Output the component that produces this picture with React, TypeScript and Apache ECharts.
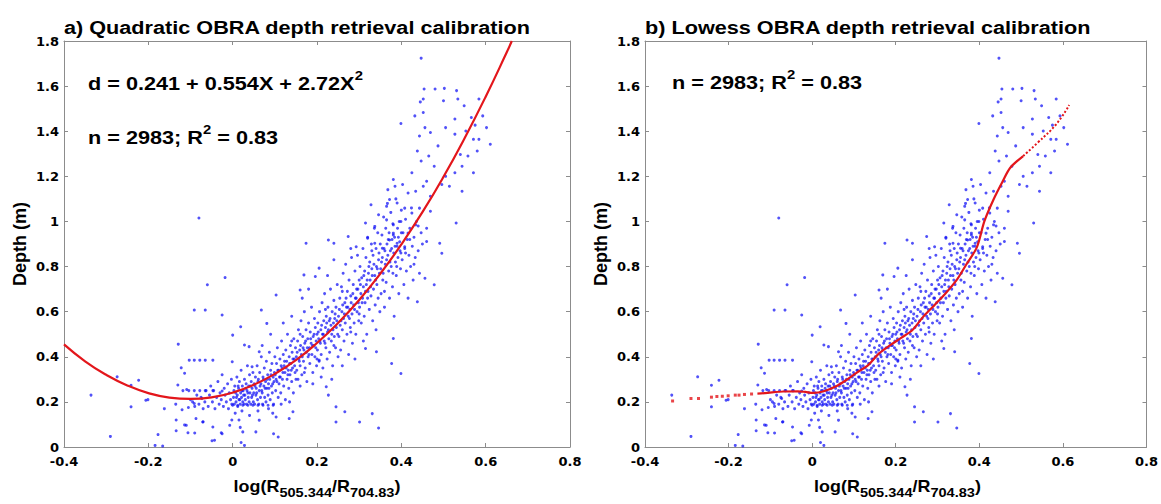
import React, { useEffect, useRef } from "react";
import * as echarts from "echarts";

// ---------- DATA ----------
const xRange = { min: -0.4, max: 0.8, step: 0.2 };
const yRange = { min: 0, max: 1.8, step: 0.2 };

const titleA = "a) Quadratic OBRA depth retrieval calibration";
const titleB = "b) Lowess OBRA depth retrieval calibration";
const equationA = "d = 0.241 + 0.554X + 2.72X";
const statsText = "n = 2983; R";
const statsValue = " = 0.83";
const yName = "Depth (m)";

// sparse points left of / below the main cloud
const sparseLow: [number, number][] = [
  [-0.336, 0.23], [-0.29, 0.047], [-0.274, 0.311], [-0.241, 0.274], [-0.223, 0.296], [-0.241, 0.178],
  [-0.206, 0.207], [-0.201, 0.21], [-0.184, 0.007], [-0.166, 0.004], [-0.177, 0.055], [-0.162, 0.17],
  [-0.129, 0.456], [-0.122, 0.351], [-0.109, 0.255], [-0.103, 0.385], [-0.091, 0.385], [-0.078, 0.385],
  [-0.065, 0.385], [-0.047, 0.385], [-0.11, 0.096], [-0.091, 0.193], [-0.091, 0.607], [-0.065, 0.607],
  [-0.06, 0.719], [-0.018, 0.751], [-0.025, 0.585], [0.019, 0.533], [0.0, 0.496], [-0.001, 0.378],
  [-0.118, 0.25], [-0.104, 0.25], [-0.091, 0.25], [-0.078, 0.25], [-0.065, 0.25], [-0.047, 0.25],
  [-0.025, 0.248], [-0.073, 0.215], [-0.087, 0.126], [-0.071, 0.111], [-0.047, 0.089], [-0.043, 0.03],
  [-0.025, 0.059], [-0.007, 0.096], [0.024, 0.067], [0.028, 0.007], [0.055, 0.067], [0.063, 0.119],
  [0.097, 0.059], [0.108, 0.044], [0.103, 0.133], [0.134, 0.126], [0.143, 0.156], [-0.08, 1.015],
  [-0.135, 0.19], [-0.12, 0.165], [-0.105, 0.175], [-0.095, 0.2], [-0.134, 0.12], [-0.13, 0.275],
  [-0.114, 0.098], [-0.106, 0.063], [-0.09, 0.062], [-0.07, 0.112], [-0.049, 0.028], [-0.027, 0.063],
  [-0.002, 0.12], [0.018, 0.087], [0.02, 0.02], [-0.134, 0.072], [-0.114, 0.327], [0.039, 0.445],
  [0.0, 0.185], [0.012, 0.185], [0.024, 0.185], [0.036, 0.185], [0.048, 0.185], [0.06, 0.185],
  [0.072, 0.185], [0.084, 0.185], [0.096, 0.185],
];

// sparse points above / right of the main cloud
const sparseHigh: [number, number][] = [
  [0.447, 1.724], [0.445, 1.53], [0.452, 1.543], [0.48, 1.587], [0.502, 1.59], [0.531, 1.58], [0.454, 1.587],
  [0.5, 1.535], [0.534, 1.543], [0.549, 1.513], [0.584, 1.543], [0.399, 1.434], [0.432, 1.468], [0.452, 1.483],
  [0.456, 1.416], [0.469, 1.394], [0.443, 1.379], [0.505, 1.416], [0.527, 1.454], [0.527, 1.387], [0.553, 1.401],
  [0.566, 1.461], [0.575, 1.427], [0.593, 1.468], [0.602, 1.416], [0.611, 1.342], [0.584, 1.364], [0.571, 1.364],
  [0.438, 1.312], [0.447, 1.268], [0.465, 1.29], [0.478, 1.245], [0.425, 1.216], [0.487, 1.335], [0.54, 1.297],
  [0.558, 1.29], [0.58, 1.312], [0.544, 1.245], [0.571, 1.216], [0.527, 1.216], [0.505, 1.2], [0.514, 1.156],
  [0.381, 1.186], [0.368, 1.141], [0.385, 1.156], [0.403, 1.164], [0.416, 1.126], [0.434, 1.134], [0.452, 1.156],
  [0.46, 1.178], [0.469, 1.112], [0.496, 1.164], [0.544, 1.134], [0.328, 1.074], [0.365, 1.067], [0.39, 1.082],
  [0.408, 1.059], [0.425, 1.037], [0.443, 1.059], [0.469, 1.045], [0.372, 1.097], [0.346, 1.03], [0.53, 0.993],
  [0.315, 0.993], [0.337, 0.978], [0.365, 1.007], [0.381, 0.985], [0.399, 1.0], [0.434, 0.985], [0.46, 0.97],
  [0.416, 0.948], [0.381, 0.948], [0.227, 0.918], [0.24, 0.903], [0.274, 0.933], [0.174, 0.903], [0.32, 0.926],
  [0.337, 0.903], [0.372, 0.918], [0.39, 0.903], [0.46, 0.911], [0.491, 0.903], [0.293, 0.888], [0.355, 0.881],
  [0.408, 0.888], [0.227, 0.23], [0.245, 0.178], [0.245, 0.111], [0.266, 0.156], [0.301, 0.111], [0.331, 0.148],
  [0.346, 0.084], [0.399, 0.326], [0.377, 0.37], [0.341, 0.422], [0.315, 0.437], [0.438, 0.644], [0.478, 0.719],
  [0.456, 0.748], [0.496, 0.859], [0.222, 0.267], [0.205, 0.385], [0.381, 0.481], [0.169, 0.763], [0.196, 0.756],
  [0.205, 0.793], [0.24, 0.83], [0.16, 0.696], [0.103, 0.674], [0.081, 0.548], [0.068, 0.607], [0.063, 0.422],
  [0.046, 0.356], [0.028, 0.452],
];

// dense cloud, x from -0.1 to 0.1
const cloudLow: [number, number][] = [
  [-0.058, 0.18], [-0.055, 0.23], [-0.052, 0.27], [-0.048, 0.2], [-0.045, 0.25], [-0.042, 0.17], [-0.038, 0.22],
  [-0.035, 0.29], [-0.032, 0.19], [-0.03, 0.24], [-0.027, 0.21], [-0.025, 0.32], [-0.022, 0.18], [-0.02, 0.26],
  [-0.018, 0.23], [-0.015, 0.2], [-0.012, 0.28], [-0.01, 0.17], [-0.008, 0.24], [-0.005, 0.21], [-0.003, 0.3],
  [-0.002, 0.19], [-0.08, 0.19], [-0.075, 0.22], [-0.07, 0.17], [-0.066, 0.2], [-0.063, 0.25], [-0.09, 0.18],
  [-0.1, 0.21], [-0.085, 0.23],
  [0.002, 0.22], [0.004, 0.19], [0.005, 0.27], [0.007, 0.24], [0.008, 0.2], [0.01, 0.31], [0.011, 0.23],
  [0.012, 0.18], [0.014, 0.26], [0.015, 0.21], [0.016, 0.29], [0.018, 0.19], [0.019, 0.24], [0.02, 0.34],
  [0.021, 0.22], [0.023, 0.27], [0.024, 0.2], [0.025, 0.25], [0.027, 0.19], [0.028, 0.3], [0.029, 0.23],
  [0.03, 0.21], [0.032, 0.28], [0.033, 0.19], [0.034, 0.25], [0.035, 0.36], [0.037, 0.22], [0.038, 0.27],
  [0.039, 0.2], [0.04, 0.32], [0.041, 0.24], [0.043, 0.19], [0.044, 0.29], [0.045, 0.22], [0.046, 0.26],
  [0.048, 0.33], [0.049, 0.2], [0.05, 0.24], [0.006, 0.15], [0.022, 0.16], [0.04, 0.14], [0.015, 0.12],
  [0.051, 0.28], [0.052, 0.19], [0.054, 0.31], [0.055, 0.23], [0.056, 0.26], [0.058, 0.36], [0.059, 0.21],
  [0.06, 0.29], [0.062, 0.19], [0.063, 0.25], [0.064, 0.33], [0.066, 0.22], [0.067, 0.28], [0.068, 0.4],
  [0.07, 0.24], [0.071, 0.19], [0.072, 0.31], [0.074, 0.27], [0.075, 0.35], [0.076, 0.22], [0.078, 0.29],
  [0.079, 0.2], [0.08, 0.38], [0.081, 0.26], [0.083, 0.32], [0.084, 0.23], [0.085, 0.28], [0.087, 0.42],
  [0.088, 0.3], [0.089, 0.21], [0.09, 0.34], [0.092, 0.27], [0.093, 0.37], [0.094, 0.24], [0.096, 0.31],
  [0.097, 0.19], [0.098, 0.29], [0.1, 0.4], [0.06, 0.16], [0.085, 0.17], [0.095, 0.15], [0.07, 0.45], [0.09, 0.5],
];

// dense cloud, x from 0.1 to 0.25
const cloudMid: [number, number][] = [
  [0.101, 0.32], [0.102, 0.25], [0.104, 0.37], [0.105, 0.29], [0.106, 0.44], [0.108, 0.22], [0.109, 0.34],
  [0.11, 0.28], [0.112, 0.39], [0.113, 0.31], [0.114, 0.24], [0.116, 0.47], [0.117, 0.35], [0.118, 0.3],
  [0.12, 0.41], [0.121, 0.27], [0.122, 0.36], [0.124, 0.33], [0.125, 0.21], [0.126, 0.43], [0.128, 0.38],
  [0.129, 0.3], [0.13, 0.5], [0.132, 0.34], [0.133, 0.26], [0.134, 0.4], [0.136, 0.32], [0.137, 0.45],
  [0.138, 0.37], [0.14, 0.29], [0.141, 0.42], [0.142, 0.35], [0.144, 0.24], [0.145, 0.48], [0.146, 0.39],
  [0.148, 0.33], [0.149, 0.44], [0.15, 0.3], [0.115, 0.19], [0.135, 0.2], [0.12, 0.55], [0.14, 0.58],
  [0.151, 0.4], [0.152, 0.34], [0.154, 0.47], [0.155, 0.3], [0.156, 0.52], [0.158, 0.38], [0.159, 0.43],
  [0.16, 0.36], [0.162, 0.56], [0.163, 0.41], [0.164, 0.32], [0.166, 0.49], [0.167, 0.44], [0.168, 0.38],
  [0.17, 0.6], [0.171, 0.46], [0.172, 0.35], [0.174, 0.52], [0.175, 0.42], [0.176, 0.29], [0.178, 0.48],
  [0.179, 0.4], [0.18, 0.55], [0.182, 0.44], [0.183, 0.37], [0.184, 0.51], [0.186, 0.46], [0.187, 0.62],
  [0.188, 0.41], [0.19, 0.33], [0.191, 0.49], [0.192, 0.45], [0.194, 0.57], [0.195, 0.4], [0.196, 0.53],
  [0.198, 0.47], [0.199, 0.36], [0.2, 0.5], [0.165, 0.66], [0.18, 0.7], [0.16, 0.27], [0.19, 0.28],
  [0.201, 0.43], [0.202, 0.55], [0.204, 0.48], [0.205, 0.38], [0.206, 0.6], [0.208, 0.46], [0.209, 0.52],
  [0.21, 0.41], [0.212, 0.64], [0.213, 0.5], [0.214, 0.35], [0.216, 0.56], [0.217, 0.47], [0.218, 0.68],
  [0.22, 0.53], [0.221, 0.44], [0.222, 0.58], [0.224, 0.39], [0.225, 0.51], [0.226, 0.62], [0.228, 0.48],
  [0.229, 0.56], [0.23, 0.42], [0.232, 0.7], [0.233, 0.54], [0.234, 0.47], [0.236, 0.6], [0.237, 0.36],
  [0.238, 0.52], [0.24, 0.65], [0.241, 0.49], [0.242, 0.57], [0.244, 0.44], [0.245, 0.62], [0.246, 0.53],
  [0.248, 0.72], [0.249, 0.5], [0.25, 0.4], [0.21, 0.31], [0.235, 0.3], [0.225, 0.76],
];

// dense cloud, x from 0.25 to 0.45
const cloudHigh: [number, number][] = [
  [0.251, 0.58], [0.252, 0.49], [0.254, 0.66], [0.255, 0.54], [0.256, 0.43], [0.258, 0.71], [0.259, 0.6],
  [0.26, 0.52], [0.262, 0.77], [0.263, 0.57], [0.264, 0.47], [0.266, 0.64], [0.267, 0.55], [0.268, 0.81],
  [0.27, 0.62], [0.271, 0.5], [0.272, 0.69], [0.274, 0.58], [0.275, 0.41], [0.276, 0.74], [0.278, 0.61],
  [0.279, 0.53], [0.28, 0.67], [0.282, 0.84], [0.283, 0.59], [0.284, 0.46], [0.286, 0.72], [0.287, 0.63],
  [0.288, 0.55], [0.29, 0.78], [0.291, 0.66], [0.292, 0.5], [0.294, 0.7], [0.295, 0.6], [0.296, 0.85],
  [0.298, 0.64], [0.299, 0.56], [0.3, 0.74], [0.26, 0.36], [0.29, 0.39], [0.28, 0.88],
  [0.301, 0.62], [0.302, 0.8], [0.304, 0.68], [0.305, 0.55], [0.306, 0.75], [0.308, 0.66], [0.309, 0.88],
  [0.31, 0.71], [0.312, 0.58], [0.313, 0.78], [0.314, 0.64], [0.316, 0.84], [0.317, 0.72], [0.318, 0.5],
  [0.32, 0.93], [0.321, 0.69], [0.322, 0.77], [0.324, 0.61], [0.325, 0.82], [0.326, 0.74], [0.328, 0.67],
  [0.329, 0.9], [0.33, 0.79], [0.332, 0.56], [0.333, 0.85], [0.334, 0.7], [0.336, 0.97], [0.337, 0.76],
  [0.338, 0.63], [0.34, 0.88], [0.341, 0.8], [0.342, 0.72], [0.344, 0.95], [0.345, 0.66], [0.346, 0.83],
  [0.348, 0.77], [0.349, 0.6], [0.35, 0.9], [0.31, 0.47], [0.34, 0.52],
  [0.351, 0.79], [0.352, 0.68], [0.354, 0.94], [0.355, 0.84], [0.356, 0.74], [0.358, 1.02], [0.359, 0.88],
  [0.36, 0.62], [0.362, 0.81], [0.363, 0.97], [0.364, 0.73], [0.366, 0.9], [0.367, 1.08], [0.368, 0.85],
  [0.37, 0.78], [0.371, 0.95], [0.372, 0.66], [0.374, 0.87], [0.375, 1.04], [0.376, 0.8], [0.378, 0.92],
  [0.379, 0.71], [0.38, 0.99], [0.382, 0.86], [0.383, 0.58], [0.384, 0.93], [0.386, 0.82], [0.387, 1.1],
  [0.388, 0.76], [0.39, 0.89], [0.391, 0.97], [0.392, 0.84], [0.394, 0.68], [0.395, 1.0], [0.396, 0.91],
  [0.398, 0.79], [0.399, 0.86], [0.4, 1.05],
  [0.402, 0.83], [0.404, 0.95], [0.406, 0.72], [0.408, 0.88], [0.41, 1.01], [0.412, 0.78], [0.414, 0.92],
  [0.416, 0.66], [0.418, 0.85], [0.42, 0.97], [0.422, 0.8], [0.424, 1.06], [0.426, 0.89], [0.428, 0.74],
  [0.43, 0.93], [0.433, 0.84], [0.436, 1.0], [0.44, 0.87], [0.443, 0.77], [0.447, 0.95], [0.45, 0.9],
];

// extra points in the densest part of the cloud
const cloudCore: [number, number][] = [
  [0.003, 0.25], [0.009, 0.22], [0.013, 0.27], [0.017, 0.21], [0.022, 0.25], [0.026, 0.23], [0.031, 0.26],
  [0.036, 0.24], [0.042, 0.27], [0.047, 0.23], [0.053, 0.27], [0.057, 0.24], [0.061, 0.3], [0.065, 0.27],
  [0.069, 0.25], [0.073, 0.3], [0.077, 0.26], [0.082, 0.3], [0.086, 0.26], [0.091, 0.32], [0.095, 0.28],
  [0.099, 0.33], [0.103, 0.3], [0.107, 0.34], [0.111, 0.31], [0.115, 0.36], [0.119, 0.33], [0.123, 0.38],
  [0.127, 0.35], [0.131, 0.32], [0.135, 0.37], [0.139, 0.34], [0.143, 0.39], [0.147, 0.36], [0.153, 0.42],
  [0.157, 0.39], [0.161, 0.45], [0.165, 0.4], [0.169, 0.43], [0.173, 0.47], [0.177, 0.44], [0.181, 0.41],
  [0.185, 0.48], [0.189, 0.45], [0.193, 0.5], [0.197, 0.44], [0.203, 0.51], [0.207, 0.47], [0.211, 0.54],
  [0.215, 0.5], [0.219, 0.46], [0.223, 0.55], [0.227, 0.52], [0.231, 0.57], [0.235, 0.5], [0.239, 0.55],
  [0.243, 0.59], [0.247, 0.56], [0.253, 0.61], [0.257, 0.56], [0.261, 0.63], [0.265, 0.59], [0.269, 0.66],
  [0.273, 0.62], [0.277, 0.57], [0.281, 0.64], [0.285, 0.68], [0.289, 0.61], [0.293, 0.66], [0.297, 0.7],
  [0.303, 0.72], [0.307, 0.64], [0.311, 0.76], [0.315, 0.69], [0.319, 0.74], [0.323, 0.8], [0.327, 0.71],
  [0.331, 0.76], [0.335, 0.81], [0.339, 0.74], [0.343, 0.79], [0.347, 0.86], [0.353, 0.82], [0.357, 0.77],
  [0.361, 0.87], [0.365, 0.83], [0.369, 0.92], [0.373, 0.82], [0.377, 0.88], [0.381, 0.94], [0.385, 0.89],
  [0.389, 0.8], [0.393, 0.93], [0.397, 0.87], [0.14, 0.47], [0.16, 0.5], [0.17, 0.33], [0.2, 0.39],
  [0.22, 0.61], [0.24, 0.45], [0.26, 0.69], [0.28, 0.51], [0.3, 0.59], [0.32, 0.66], [0.33, 0.87],
  [0.36, 0.69], [0.38, 0.77], [0.4, 0.95], [0.41, 0.86], [0.42, 0.92], [0.43, 0.81], [0.44, 0.98],
];

// quadratic calibration curve (panel a), as drawn
const quadX = [-0.4, -0.35, -0.3, -0.25, -0.2, -0.15, -0.1, -0.05, 0, 0.05, 0.1, 0.15, 0.2, 0.25, 0.3, 0.35, 0.4, 0.45, 0.5, 0.55, 0.6, 0.65, 0.662];
const quadY = [0.455, 0.38, 0.32, 0.273, 0.239, 0.219, 0.213, 0.22, 0.241, 0.276, 0.324, 0.385, 0.461, 0.55, 0.652, 0.768, 0.898, 1.041, 1.198, 1.369, 1.553, 1.75, 1.8];

// lowess curve (panel b): continuous part, sparse left dots, dotted upper part
const lowessX = [-0.131, -0.113, -0.069, -0.034, -0.016, 0.002, 0.028, 0.055, 0.081, 0.107, 0.134, 0.16, 0.187, 0.213, 0.24, 0.266, 0.293, 0.319, 0.346, 0.368, 0.394, 0.412, 0.434, 0.456, 0.474, 0.505];
const lowessY = [0.237, 0.239, 0.246, 0.247, 0.244, 0.24, 0.247, 0.267, 0.296, 0.33, 0.363, 0.415, 0.452, 0.484, 0.519, 0.578, 0.63, 0.681, 0.741, 0.807, 0.885, 1.0, 1.097, 1.178, 1.238, 1.29];
const lowessDotX = [-0.334, -0.29, -0.272, -0.241, -0.228, -0.215, -0.201, -0.184, -0.175, -0.162, -0.145];
const lowessDotY = [0.204, 0.215, 0.215, 0.221, 0.224, 0.225, 0.227, 0.23, 0.23, 0.233, 0.235];
const lowessTailX = [0.505, 0.54, 0.584, 0.615];
const lowessTailY = [1.29, 1.35, 1.431, 1.516];

// ---------- STYLE ----------
const FONT = '"Liberation Sans", Arial, Helvetica, sans-serif';
const TICK_FONT = '"DejaVu Sans", "Liberation Sans", Arial, sans-serif';
const AXIS_COLOR = "#8c8c8c";
const DOT_COLOR = "rgba(15,15,245,0.9)";
const RED = "#e3161b";

const zip = (xs: number[], ys: number[]) => xs.map((x, i) => [x, ys[i]]);
const fmt = (v: number) => String(Math.round(v * 10) / 10);

const gridsPx = [
  { left: 64, top: 41, width: 506, height: 406 },
  { left: 645, top: 41, width: 505, height: 406 },
];

function xAxis(gridIndex: number, position: "bottom" | "top", labels: boolean) {
  return {
    type: "value",
    gridIndex,
    position,
    min: xRange.min,
    max: xRange.max,
    interval: xRange.step,
    axisLine: { show: true, onZero: false, lineStyle: { color: AXIS_COLOR, width: 1 } },
    axisTick: { show: true, inside: true, length: 4, lineStyle: { color: AXIS_COLOR } },
    axisLabel: {
      show: labels,
      margin: 8,
      color: "#000",
      fontFamily: TICK_FONT,
      fontWeight: "bold",
      fontSize: 13,
      formatter: fmt,
    },
    splitLine: { show: false },
  };
}

function yAxis(gridIndex: number, position: "left" | "right", labels: boolean) {
  return {
    type: "value",
    gridIndex,
    position,
    min: yRange.min,
    max: yRange.max,
    interval: yRange.step,
    axisLine: { show: true, onZero: false, lineStyle: { color: AXIS_COLOR, width: 1 } },
    axisTick: { show: true, inside: true, length: 4, lineStyle: { color: AXIS_COLOR } },
    axisLabel: {
      show: labels,
      margin: 5,
      color: "#000",
      fontFamily: TICK_FONT,
      fontWeight: "bold",
      fontSize: 13,
      formatter: fmt,
    },
    splitLine: { show: false },
  };
}

const allPoints = [...cloudLow, ...cloudMid, ...cloudHigh, ...cloudCore, ...sparseLow, ...sparseHigh];

function scatter(axisIndex: number) {
  return {
    type: "scatter",
    xAxisIndex: axisIndex,
    yAxisIndex: axisIndex,
    data: allPoints,
    symbol: "circle",
    symbolSize: 3,
    itemStyle: { color: DOT_COLOR },
    silent: true,
    z: 2,
  };
}

function richBlock(x: number, y: number, text: string, rich: any, align = "left", vAlign = "top", sx = 1.14) {
  return {
    type: "text",
    x,
    y,
    scaleX: sx,
    silent: true,
    z: 10,
    style: {
      text,
      rich,
      fill: "#000",
      align,
      verticalAlign: vAlign,
      textAlign: align,
      textVerticalAlign: vAlign,
    },
  };
}

const supRich = {
  m: { fontFamily: FONT, fontWeight: "bold", fontSize: 19, lineHeight: 24, verticalAlign: "bottom", fill: "#000" },
  s: { fontFamily: FONT, fontWeight: "bold", fontSize: 13, lineHeight: 13, verticalAlign: "top", fill: "#000" },
};
const subRich = {
  m: { fontFamily: FONT, fontWeight: "bold", fontSize: 16, lineHeight: 18, verticalAlign: "top", fill: "#000" },
  s: { fontFamily: FONT, fontWeight: "bold", fontSize: 13, lineHeight: 20.5, verticalAlign: "bottom", fill: "#000" },
};
const xNameText = "{m|log(R}{s|505.344}{m|/R}{s|704.83}{m|)}";

export default function App() {
  const ref = useRef<HTMLDivElement>(null);

  useEffect(() => {
    if (!ref.current) return;
    const chart = echarts.init(ref.current, undefined, { renderer: "svg" });
    const titleStyle = (x: number, text: string) => ({
      type: "text",
      x,
      y: 27.7,
      scaleX: 1.14,
      silent: true,
      style: {
        text,
        font: `bold 19px ${FONT}`,
        fill: "#000",
        align: "left",
        verticalAlign: "middle",
        textAlign: "left",
        textVerticalAlign: "middle",
      },
    });
    const yNameEl = (x: number) => ({
      type: "text",
      x,
      y: 244,
      rotation: Math.PI / 2,
      silent: true,
      style: {
        text: yName,
        font: `bold 18px ${FONT}`,
        fill: "#000",
        align: "center",
        verticalAlign: "middle",
        textAlign: "center",
        textVerticalAlign: "middle",
      },
    });

    chart.setOption({
      animation: false,
      backgroundColor: "#fff",
      textStyle: { fontFamily: FONT },
      grid: gridsPx.map((g) => ({ ...g, containLabel: false })),
      xAxis: [xAxis(0, "bottom", true), xAxis(0, "top", false), xAxis(1, "bottom", true), xAxis(1, "top", false)],
      yAxis: [yAxis(0, "left", true), yAxis(0, "right", false), yAxis(1, "left", true), yAxis(1, "right", false)],
      series: [
        scatter(0),
        {
          type: "line",
          xAxisIndex: 0,
          yAxisIndex: 0,
          data: zip(quadX, quadY),
          smooth: true,
          showSymbol: false,
          symbol: "none",
          lineStyle: { color: RED, width: 2.2 },
          silent: true,
          z: 5,
        },
        scatter(2),
        {
          type: "line",
          xAxisIndex: 2,
          yAxisIndex: 2,
          data: zip(lowessX, lowessY),
          smooth: 0.3,
          showSymbol: false,
          symbol: "none",
          lineStyle: { color: RED, width: 2.2 },
          silent: true,
          z: 5,
        },
        {
          type: "line",
          xAxisIndex: 2,
          yAxisIndex: 2,
          data: zip(lowessTailX, lowessTailY),
          smooth: true,
          showSymbol: false,
          symbol: "none",
          lineStyle: { color: RED, width: 2, type: [2, 2] },
          silent: true,
          z: 5,
        },
        {
          type: "scatter",
          xAxisIndex: 2,
          yAxisIndex: 2,
          data: zip(lowessDotX, lowessDotY),
          symbol: "rect",
          symbolSize: 3,
          itemStyle: { color: RED },
          silent: true,
          z: 5,
        },
      ],
      graphic: [
        titleStyle(64, titleA),
        titleStyle(645, titleB),
        richBlock(88, 68.5, `{m|${equationA}}{s|2}`, supRich),
        richBlock(88, 123, `{m|${statsText}}{s|2}{m|${statsValue}}`, supRich),
        richBlock(672, 67.5, `{m|${statsText}}{s|2}{m|${statsValue}}`, supRich),
        richBlock(317, 479, xNameText, subRich, "center", "top", 1.12),
        richBlock(897.5, 479, xNameText, subRich, "center", "top", 1.12),
        yNameEl(20),
        yNameEl(601),
      ],
    });
    return () => chart.dispose();
  }, []);

  return (
    <div
      ref={ref}
      style={{ position: "fixed", left: 0, top: 0, width: 1161, height: 504, background: "#fff" }}
    />
  );
}
